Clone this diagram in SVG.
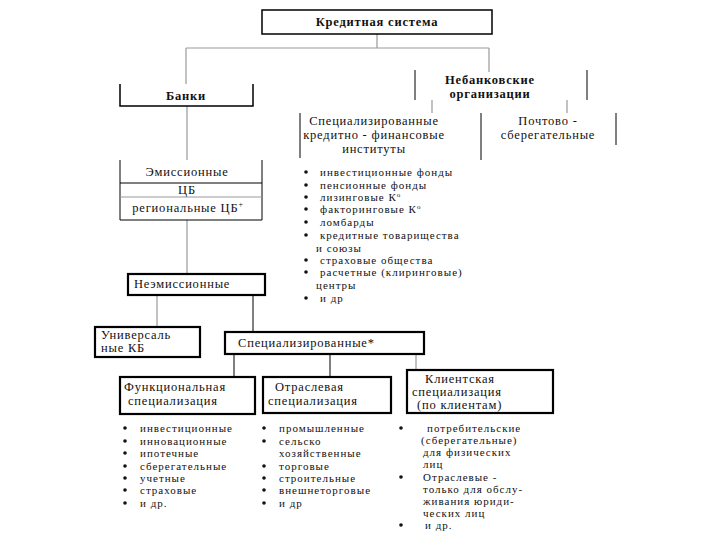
<svg xmlns="http://www.w3.org/2000/svg" width="720" height="540" viewBox="0 0 720 540" font-family="'Liberation Serif','DejaVu Serif',serif">
<style>
text{font-family:"Liberation Serif","DejaVu Serif",serif;font-size:12.5px;letter-spacing:0.8px;fill:#111}
.b{font-weight:bold;font-size:12.5px;letter-spacing:0.8px}
.c{text-anchor:middle}
.s{font-size:11px;letter-spacing:1px}
.box{fill:#fff;stroke:#000;stroke-width:1.5}
.tb{fill:#fff;stroke:#000;stroke-width:2.2}
.ln{stroke:#000;stroke-width:1;fill:none}
.gl{stroke:#999;stroke-width:1.2;fill:none}
.bul{fill:#111}
</style>
<rect width="720" height="540" fill="#fff"/>
<g id="connectors">
<path class="gl" d="M377 34V48M186 48H489M186 48V84M489 48V72"/>
<path class="gl" d="M432 100V113M567 100V113"/>
<path class="gl" d="M187 106V160M187 220V274"/>
<path class="gl" d="M157 296V326"/>
<path class="ln" d="M253 295V332"/>
<path class="ln" d="M234 354V377M330 354V377"/>
<path class="gl" d="M416 354V370"/>
</g>
<g id="kreditnaya">
<rect class="box" x="262" y="10" width="230" height="24"/>
<text class="b c" x="377" y="26">Кредитная система</text>
</g>
<g id="banki">
<path class="box" d="M120 84V106H253V84" fill="none"/>
<text class="b c" x="186" y="100">Банки</text>
</g>
<g id="nebank">
<path class="ln" d="M415 70V100M587 70V100"/>
<text class="b c" x="490" y="84">Небанковские</text>
<text class="b c" x="490" y="98">организации</text>
</g>
<g id="spec-kfi">
<path class="ln" d="M300 113V158"/>
<text class="c" x="374" y="125">Специализированные</text>
<text class="c" x="374" y="139">кредитно - финансовые</text>
<text class="c" x="374" y="153">институты</text>
</g>
<g id="pochtovo">
<path class="ln" d="M481 113V160M616 113V145"/>
<text class="c" x="548" y="125">Почтово -</text>
<text class="c" x="548" y="139">сберегательные</text>
</g>
<g id="emiss">
<path class="ln" d="M120 160V220H262V160M120 183H262"/>
<path class="gl" d="M120 197H262"/>
<text class="c" x="187" y="176">Эмиссионные</text>
<text class="c" x="187" y="194">ЦБ</text>
<text class="c" x="188" y="212">региональные ЦБ<tspan dy="-5" font-size="8">+</tspan></text>
</g>
<g id="list-kfi">
<g class="bul"><circle cx="306" cy="172" r="1.8"/><circle cx="306" cy="185" r="1.8"/><circle cx="306" cy="197" r="1.8"/><circle cx="306" cy="209" r="1.8"/><circle cx="306" cy="222" r="1.8"/><circle cx="306" cy="235" r="1.8"/><circle cx="306" cy="260" r="1.8"/><circle cx="306" cy="272" r="1.8"/><circle cx="306" cy="298" r="1.8"/></g>
<text class="s" x="320" y="176">инвестиционные фонды</text>
<text class="s" x="320" y="189">пенсионные фонды</text>
<text class="s" x="320" y="201">лизинговые К<tspan dy="-4" font-size="7">о</tspan></text>
<text class="s" x="320" y="213">факторинговые К<tspan dy="-4" font-size="7">о</tspan></text>
<text class="s" x="320" y="226">ломбарды</text>
<text class="s" x="320" y="239">кредитные товарищества</text>
<text class="s" x="316" y="252">и союзы</text>
<text class="s" x="320" y="264">страховые общества</text>
<text class="s" x="320" y="276">расчетные (клиринговые)</text>
<text class="s" x="316" y="289">центры</text>
<text class="s" x="320" y="302">и др</text>
</g>
<g id="neemiss">
<rect class="tb" x="128" y="274" width="137" height="21"/>
<text x="134" y="288">Неэмиссионные</text>
</g>
<g id="universal">
<rect class="tb" x="95" y="327" width="105" height="30"/>
<text x="101" y="339">Универсаль</text>
<text x="101" y="352">ные КБ</text>
</g>
<g id="spec">
<rect class="tb" x="225" y="332" width="199" height="22"/>
<text x="238" y="347">Специализированные*</text>
</g>
<g id="funk">
<rect class="tb" x="120" y="377" width="135" height="37"/>
<text x="124" y="391">Функциональная</text>
<text x="128" y="405">специализация</text>
</g>
<g id="otrasl">
<rect class="tb" x="263" y="377" width="128" height="36"/>
<text x="275" y="391">Отраслевая</text>
<text x="268" y="405">специализация</text>
</g>
<g id="klient">
<rect class="tb" x="407" y="370" width="146" height="43"/>
<text x="425" y="383">Клиентская</text>
<text x="412" y="396">специализация</text>
<text x="417" y="409">(по клиентам)</text>
</g>
<g id="list-funk">
<g class="bul"><circle cx="125" cy="428" r="1.8"/><circle cx="125" cy="441" r="1.8"/><circle cx="125" cy="453" r="1.8"/><circle cx="125" cy="466" r="1.8"/><circle cx="125" cy="478" r="1.8"/><circle cx="125" cy="490" r="1.8"/><circle cx="125" cy="503" r="1.8"/></g>
<text class="s" x="140" y="432">инвестиционные</text>
<text class="s" x="140" y="445">инновационные</text>
<text class="s" x="140" y="457">ипотечные</text>
<text class="s" x="140" y="470">сберегательные</text>
<text class="s" x="140" y="482">учетные</text>
<text class="s" x="140" y="494">страховые</text>
<text class="s" x="140" y="507">и др.</text>
</g>
<g id="list-otrasl">
<g class="bul"><circle cx="264" cy="428" r="1.8"/><circle cx="264" cy="441" r="1.8"/><circle cx="264" cy="466" r="1.8"/><circle cx="264" cy="478" r="1.8"/><circle cx="264" cy="490" r="1.8"/><circle cx="264" cy="503" r="1.8"/></g>
<text class="s" x="279" y="432">промышленные</text>
<text class="s" x="279" y="445">сельско</text>
<text class="s" x="279" y="457">хозяйственные</text>
<text class="s" x="279" y="470">торговые</text>
<text class="s" x="279" y="482">строительные</text>
<text class="s" x="279" y="494">внешнеторговые</text>
<text class="s" x="279" y="507">и др</text>
</g>
<g id="list-klient">
<g class="bul"><circle cx="401" cy="428" r="1.8"/><circle cx="401" cy="477" r="1.8"/><circle cx="401" cy="525" r="1.8"/></g>
<text class="s" x="427" y="432">потребительские</text>
<text class="s" x="421" y="444">(сберегательные)</text>
<text class="s" x="423" y="456">для физических</text>
<text class="s" x="423" y="468">лиц</text>
<text class="s" x="423" y="481">Отраслевые -</text>
<text class="s" x="423" y="493">только для обслу-</text>
<text class="s" x="423" y="505">живания юриди-</text>
<text class="s" x="423" y="517">ческих лиц</text>
<text class="s" x="425" y="529">и др.</text>
</g>
</svg>
